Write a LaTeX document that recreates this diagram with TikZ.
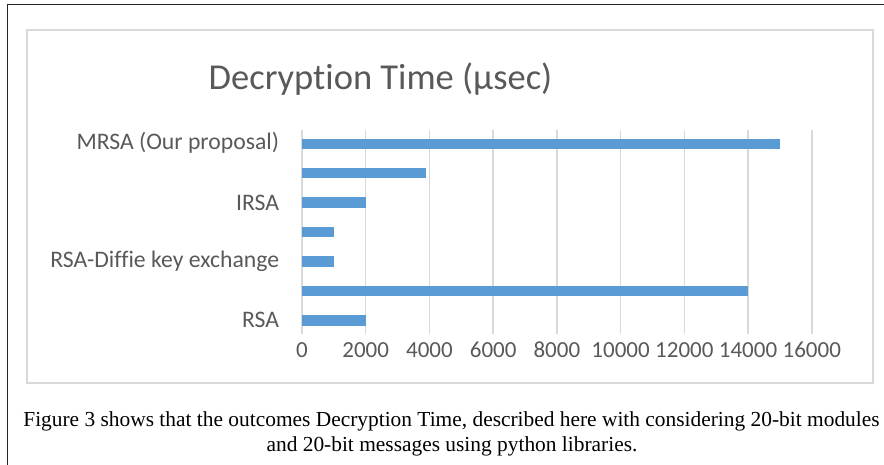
\documentclass[tikz,border=0pt]{standalone}
\usepackage{fontspec}
\setmainfont{Liberation Serif}
\newfontfamily\chartfont[RawFeature={-liga;-clig;-calt;-dlig}]{Carlito}
\definecolor{barblue}{HTML}{5B9BD5}
\definecolor{gridgray}{HTML}{D9D9D9}
\definecolor{textgray}{HTML}{595959}
\tikzset{
  chartlabel/.style={font=\chartfont\fontsize{23.7}{28}\selectfont, text=textgray, inner sep=0pt},
  ticklabel/.style={font=\chartfont\fontsize{23}{28}\selectfont, text=textgray, inner sep=0pt, anchor=base},
  captionline/.style={font=\fontsize{21.4}{25}\selectfont, inner sep=0pt, anchor=base},
  gridline/.style={draw=gridgray, line width=1.5pt},
  bar/.style={fill=barblue}
}
\begin{document}
\begin{tikzpicture}[x=1pt,y=-1pt]
  \useasboundingbox (0,0) rectangle (884,465);
  % page frame
  \draw[line width=1.5pt, black!85] (7.5,465) -- (7.5,4.5) -- (884,4.5);
  % chart area
  \draw[gridgray, line width=2pt] (27,30) rectangle (873,383);
  % title
  \node[chartlabel, font=\chartfont\fontsize{36.5}{40}\selectfont, anchor=base] (title) at (380.5,89.3) {Decryption Time (µsec)};
  % vertical grid and value axis labels
  \foreach \k in {0,...,8} {
    \pgfmathtruncatemacro\val{\k*2000}
    \draw[gridline] ({302+\k*63.72},130) -- ({302+\k*63.72},334);
    \node[ticklabel] (tick\k) at ({302+\k*63.72},357.5) {\val};
  }
  % bars, top to bottom
  \foreach \v [count=\i] in {15000,3900,2000,1000,1000,14000,2000} {
    \pgfmathsetmacro\yc{143.9+(\i-1)*29.4}
    \fill[bar] (302,{\yc-5.2}) rectangle ({302+\v*0.03186},{\yc+5.2});
  }
  % category labels
  \node[chartlabel, anchor=east] (mrsa) at (279.3,142.5) {MRSA (Our proposal)};
  \node[chartlabel, anchor=east] (irsa) at (279.3,202.7) {IRSA};
  \node[chartlabel, anchor=east] (rsadh) at (279.3,261.5) {RSA-Diffie key exchange};
  \node[chartlabel, anchor=east] (rsa) at (279.3,320.3) {RSA};
  % caption
  \node[captionline] (cap1) at (451.5,426.7) {Figure 3 shows that the outcomes Decryption Time, described here with considering 20-bit modules};
  \node[captionline] (cap2) at (452,451.7) {and 20-bit messages using python libraries.};
\end{tikzpicture}
\end{document}
